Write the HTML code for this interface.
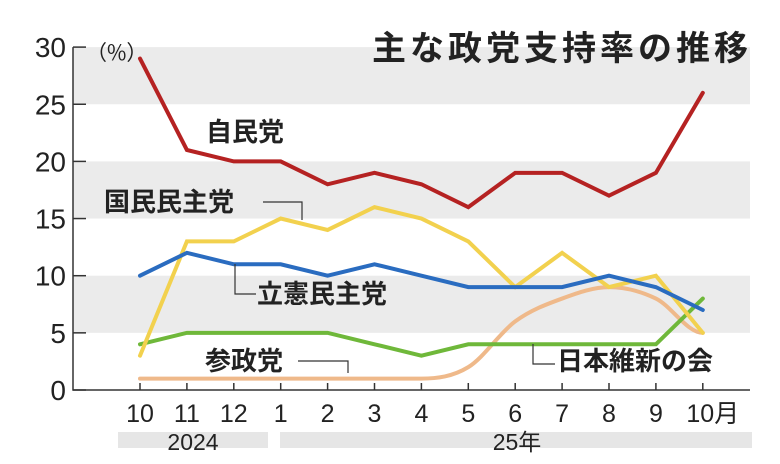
<!DOCTYPE html>
<html><head><meta charset="utf-8"><style>
body{margin:0;background:#fff;}
svg text{font-family:"Liberation Sans","Noto Sans CJK JP",sans-serif;fill:#222;}
</style></head><body>
<svg width="780" height="459" viewBox="0 0 780 459">
<rect width="780" height="459" fill="#fff"/>
<g id="bands"></g>
<g id="axes"></g>
<g id="series"></g>
<g id="labels"></g>
<text x="752" y="60" text-anchor="end" font-size="34" letter-spacing="4" font-weight="bold">主な政党支持率の推移</text>
<text x="86" y="60" font-size="21" style="font-family:'Noto Sans CJK JP',sans-serif">（%）</text>
<rect x="118" y="432" width="150" height="16" fill="#e6e6e6"/>
<rect x="280" y="432" width="472" height="16" fill="#e6e6e6"/>
<text x="193" y="450" text-anchor="middle" font-size="23">2024</text>
<text x="517" y="450" text-anchor="middle" font-size="23">25年</text>
</svg>
<script>
const months=["10","11","12","1","2","3","4","5","6","7","8","9","10月"];
const yTicks=[0,5,10,15,20,25,30];
const ldp=[29,21,20,20,18,19,18,16,19,19,17,19,26];
const dpfp=[3,13,13,15,14,16,15,13,9,12,9,10,5];
const cdp=[10,12,11,11,10,11,10,9,9,9,10,9,7];
const sanseito=[1,1,1,1,1,1,1,2,6,8,9,8,5];
const ishin=[4,5,5,5,5,4,3,4,4,4,4,4,8];
const NS="http://www.w3.org/2000/svg";
const X0=140,DX=46.9,Y0=390,PY=11.43;
const x=i=>X0+i*DX, y=v=>Y0-v*PY;
function mk(tag,attrs,parent){const e=document.createElementNS(NS,tag);for(const k in attrs)e.setAttribute(k,attrs[k]);document.getElementById(parent).appendChild(e);return e;}
[[25,30],[15,20],[5,10]].forEach(b=>{
 const r=mk('rect',{x:73,y:y(b[1]),width:677,height:y(b[0])-y(b[1]),fill:'#ebebeb'},'bands');
 
 
});
const ax=mk('path',{d:`M73 ${y(30)} V${Y0} H750`,stroke:'#333','stroke-width':1.5,fill:'none'},'axes');


yTicks.forEach(v=>{
 const t=mk('line',{x1:73,x2:86,y1:y(v),y2:y(v),stroke:'#333','stroke-width':1.5},'axes');
 
 
 const l=mk('text',{x:66,y:y(v)+10,'text-anchor':'end','font-size':28},'axes');
 l.textContent=v;
 
 
});
months.forEach((m,i)=>{
 const t=mk('line',{x1:x(i),x2:x(i),y1:Y0,y2:Y0-7,stroke:'#333','stroke-width':1.5},'axes');
 
 
 const l=mk('text',{x:x(i)+(i==12?10:0),y:422,'text-anchor':'middle','font-size':25},'axes');
 l.textContent=m;
 
 
});
function slopes(data){
 const n=data.length,s=[];
 for(let i=0;i<n;i++){
  if(i==0||i==n-1){s.push(0);continue;}
  const a=data[i]-data[i-1],b=data[i+1]-data[i];
  s.push(a*b<=0?0:(a+b)/2);
 }
 return s;
}
function line(data,color,name,smooth){
 let d='M'+x(0)+' '+y(data[0]);
 if(smooth){const s=slopes(data);for(let i=1;i<data.length;i++){
  d+=` C${x(i-1)+DX/3} ${y(data[i-1]+s[i-1]/3)} ${x(i)-DX/3} ${y(data[i]-s[i]/3)} ${x(i)} ${y(data[i])}`;}}
 else data.forEach((v,i)=>{if(i)d+=` L${x(i)} ${y(v)}`;});
 const p=mk('path',{d:d,stroke:color,'stroke-width':4,fill:'none','stroke-linejoin':'miter','stroke-linecap':'round'},'series');
 
 
}
line(sanseito,'#efb98a','sanseito-line',true);
line(ishin,'#6fb83a','ishin-line');
line(dpfp,'#f2d14e','dpfp-line');
line(cdp,'#2a6cc0','cdp-line');
line(ldp,'#b52222','ldp-line');
function lab(tx,lx,ly,name,lead){
 if(lead){const p=mk('path',{d:lead,stroke:'#333','stroke-width':1.2,fill:'none'},'labels');}
 const t=mk('text',{x:lx,y:ly,'font-size':26,'font-weight':'bold'},'labels');t.textContent=tx;
 
 
}
lab('自民党',206,141,'ldp-label');
lab('国民民主党',104,211,'dpfp-label','M263 202 H302 V220');
lab('立憲民主党',257,303,'cdp-label','M235 264 V294 H256');
lab('参政党',205,370,'sanseito-label','M298 361 H348 V373');
lab('日本維新の会',557,370,'ishin-label','M533 344 V364 H555');
</script>
</body></html>
